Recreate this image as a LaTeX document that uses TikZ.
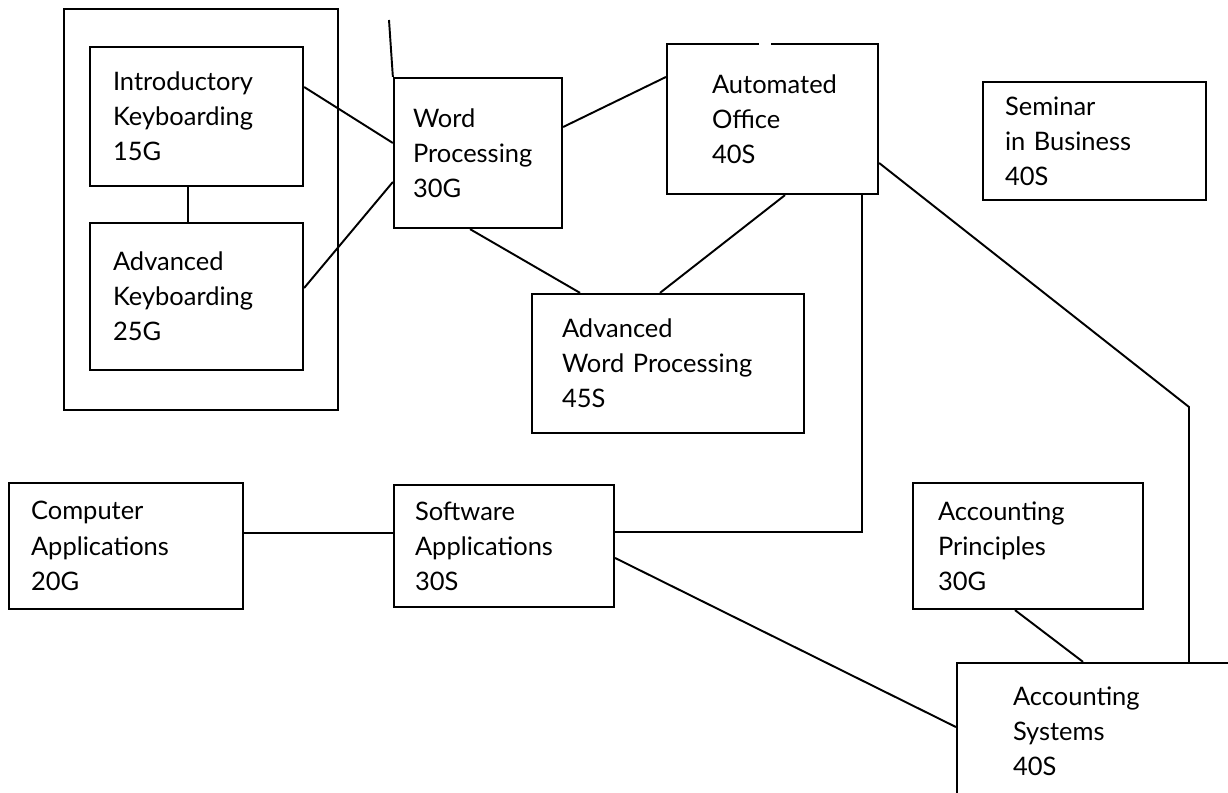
\documentclass[tikz,border=0pt]{standalone}
\usepackage{fontspec}
\setmainfont{Lato}
\usepackage{tikz}

\newcommand{\coursefont}{\fontsize{14.5}{20}\selectfont}

\begin{document}
\begin{tikzpicture}[x=0.02cm, y=-0.02cm]
	\tikzstyle{Course} = [draw, line width=1.3pt, align=left, inner ysep=2pt, font=\coursefont]
	\tikzstyle{Link}   = [line width=1.1pt]

	\useasboundingbox (0,0) rectangle (1228,793);
	\clip (0,0) rectangle (1228,793);
	\fill[white] (0,0) rectangle (1228,793);

	% keyboarding group
	\draw[line width=1.3pt] (64,9) rectangle (338,410);

	\node (intro) at (196.5,116.5) [Course, minimum width=4.26cm, minimum height=2.78cm, inner xsep=0.46cm, text width=3.34cm] {Introductory\\Keyboarding\\15G};
	\node (advkey) at (196.5,296.5) [Course, minimum width=4.26cm, minimum height=2.94cm, inner xsep=0.46cm, text width=3.34cm] {Advanced\\Keyboarding\\25G};
	\node (wordproc) at (478,153) [Course, minimum width=3.36cm, minimum height=3.0cm, inner xsep=0.38cm, text width=2.6cm] {Word\\Processing\\30G};
	\node (autoff) at (772.5,119) [Course, minimum width=4.22cm, minimum height=3.0cm, inner xsep=0.9cm, text width=2.42cm] {Automated\\Office\\40S};
	\node (seminar) at (1094.5,141) [Course, minimum width=4.46cm, minimum height=2.36cm, inner xsep=0.44cm, text width=3.58cm] {Seminar\\in Business\\40S};
	\node (advwp) at (668,363.5) [Course, minimum width=5.44cm, minimum height=2.78cm, inner xsep=0.6cm, text width=4.24cm] {Advanced\\Word Processing\\45S};
	\node (compapp) at (126,546) [Course, minimum width=4.68cm, minimum height=2.52cm, inner xsep=0.44cm, text width=3.8cm] {Computer\\Applications\\20G};
	\node (softapp) at (504,546) [Course, minimum width=4.4cm, minimum height=2.44cm, inner xsep=0.42cm, text width=3.56cm] {Software\\Applications\\30S};
	\node (accpr) at (1028,546) [Course, minimum width=4.6cm, minimum height=2.52cm, inner xsep=0.5cm, text width=3.6cm] {Accounting\\Principles\\30G};
	\node (accsys) at (1128.5,731.5) [Course, minimum width=6.86cm, minimum height=2.74cm, inner xsep=1.12cm, text width=4.62cm] {Accounting\\Systems\\40S};

	% break in the top edge
	\draw[white, line width=2pt] (759,44) -- (771,44);

	\coordinate (stub) at (389,20);
	\coordinate (bend) at (1189,407);

	\draw[Link] ([xshift=-0.17cm]intro.south) -- ([xshift=-0.17cm]advkey.north);
	\draw[Link] ([yshift=0.59cm]intro.east) -- ([yshift=0.2cm]wordproc.west);
	\draw[Link] ([yshift=0.17cm]advkey.east) -- ([yshift=-0.58cm]wordproc.west);
	\draw[Link] (stub) -- (wordproc.north west);
	\draw[Link] ([yshift=0.52cm]wordproc.east) -- ([yshift=0.84cm]autoff.west);
	\draw[Link] ([xshift=-0.16cm]wordproc.south) -- ([xshift=-1.76cm]advwp.north);
	\draw[Link] ([xshift=0.25cm]autoff.south) -- ([xshift=-0.16cm]advwp.north);
	\draw[Link] ([xshift=1.79cm]autoff.south) |- ([yshift=0.28cm]softapp.east);
	\draw[Link] ([yshift=-0.88cm]autoff.east) -- (bend) -- (bend |- accsys.north);
	\draw[Link] ([yshift=0.26cm]compapp.east) -- ([yshift=0.26cm]softapp.west);
	\draw[Link] ([yshift=-0.24cm]softapp.east) -- ([yshift=0.09cm]accsys.west);
	\draw[Link] ([xshift=-0.26cm]accpr.south) -- ([xshift=-0.91cm]accsys.north);
\end{tikzpicture}
\end{document}
